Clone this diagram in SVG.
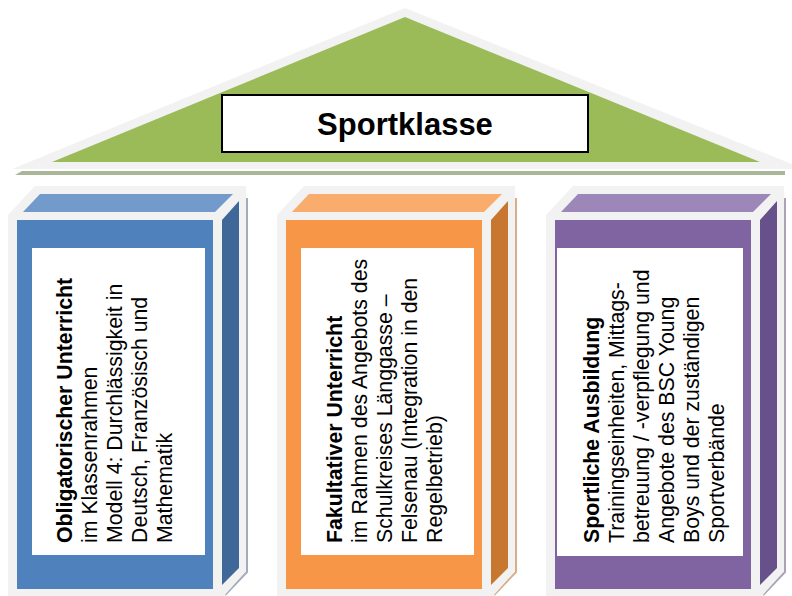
<svg xmlns="http://www.w3.org/2000/svg" width="792" height="596" viewBox="0 0 792 596">
<style>
.frame{fill:#f2f2f2}
.white{fill:#ffffff}
.t{font-family:"Liberation Sans",Arial,sans-serif;font-size:21.3px;fill:#000}
.b{font-weight:bold}
</style>
<rect width="792" height="596" fill="#ffffff"/>
<g id="roof">
<polygon class="frame" points="405,8 792,164 792,169 12,169"/>
<polygon fill="#9bbb59" points="405,17 760,162 52,162"/>
<polygon fill="#a9b697" points="15,175 22,171 785,171 785,175"/>
<rect x="222" y="95" width="366" height="57" fill="#ffffff" stroke="#000" stroke-width="2"/>
<text x="405" y="135" text-anchor="middle" font-family="Liberation Sans,Arial,sans-serif" font-size="31" font-weight="bold">Sportklasse</text>
</g>
<g id="pillar1">
<path d="M247,198 V572 L225,595" fill="none" stroke="#a3acba" stroke-width="2"/>
<polygon class="frame" points="8,215 35,186 246,186 246,571 224,596 8,596"/>
<polygon fill="#729aca" points="23,212 40,194 233,194 215,212"/>
<rect x="17" y="220" width="196" height="369" fill="#4f81bd"/>
<polygon fill="#3f6797" points="222,220 239,201 239,568 222,585"/>
<rect class="white" x="32" y="248" width="173" height="307"/>
<g transform="translate(0,543) rotate(-90)">
<text class="t b" x="0" y="72">Obligatorischer Unterricht</text>
<text class="t" x="0" y="97">im Klassenrahmen</text>
<text class="t" x="0" y="122">Modell 4: Durchlässigkeit in</text>
<text class="t" x="0" y="147">Deutsch, Französisch und</text>
<text class="t" x="0" y="172">Mathematik</text>
</g>
</g>
<g id="pillar2">
<path d="M516,198 V572 L494,595" fill="none" stroke="#d8ad88" stroke-width="2"/>
<polygon class="frame" points="277,215 304,186 515,186 515,571 493,596 277,596"/>
<polygon fill="#f9ac6c" points="292,212 309,194 502,194 484,212"/>
<rect x="286" y="220" width="196" height="369" fill="#f79646"/>
<polygon fill="#c7772f" points="491,220 508,201 508,568 491,585"/>
<rect class="white" x="301" y="248" width="173" height="307"/>
<g transform="translate(0,543) rotate(-90)">
<text class="t b" x="0" y="342">Fakultativer Unterricht</text>
<text class="t" x="0" y="367">im Rahmen des Angebots des</text>
<text class="t" x="0" y="392">Schulkreises Länggasse –</text>
<text class="t" x="0" y="417">Felsenau (Integration in den</text>
<text class="t" x="0" y="442">Regelbetrieb)</text>
</g>
</g>
<g id="pillar3">
<path d="M785,198 V572 L763,595" fill="none" stroke="#aaa2b6" stroke-width="2"/>
<polygon class="frame" points="546,215 573,186 784,186 784,571 762,596 546,596"/>
<polygon fill="#9d87b9" points="561,212 578,194 771,194 753,212"/>
<rect x="555" y="220" width="196" height="369" fill="#8064a2"/>
<polygon fill="#66518a" points="760,220 777,201 777,568 760,585"/>
<rect class="white" x="557" y="248" width="186" height="308"/>
<g transform="translate(0,543) rotate(-90)">
<text class="t b" x="0" y="599">Sportliche Ausbildung</text>
<text class="t" x="0" y="624">Trainingseinheiten, Mittags-</text>
<text class="t" x="0" y="649">betreuung / -verpflegung und</text>
<text class="t" x="0" y="674">Angebote des BSC Young</text>
<text class="t" x="0" y="699">Boys und der zuständigen</text>
<text class="t" x="0" y="724">Sportverbände</text>
</g>
</g>
<g id="connectors"></g>
</svg>
